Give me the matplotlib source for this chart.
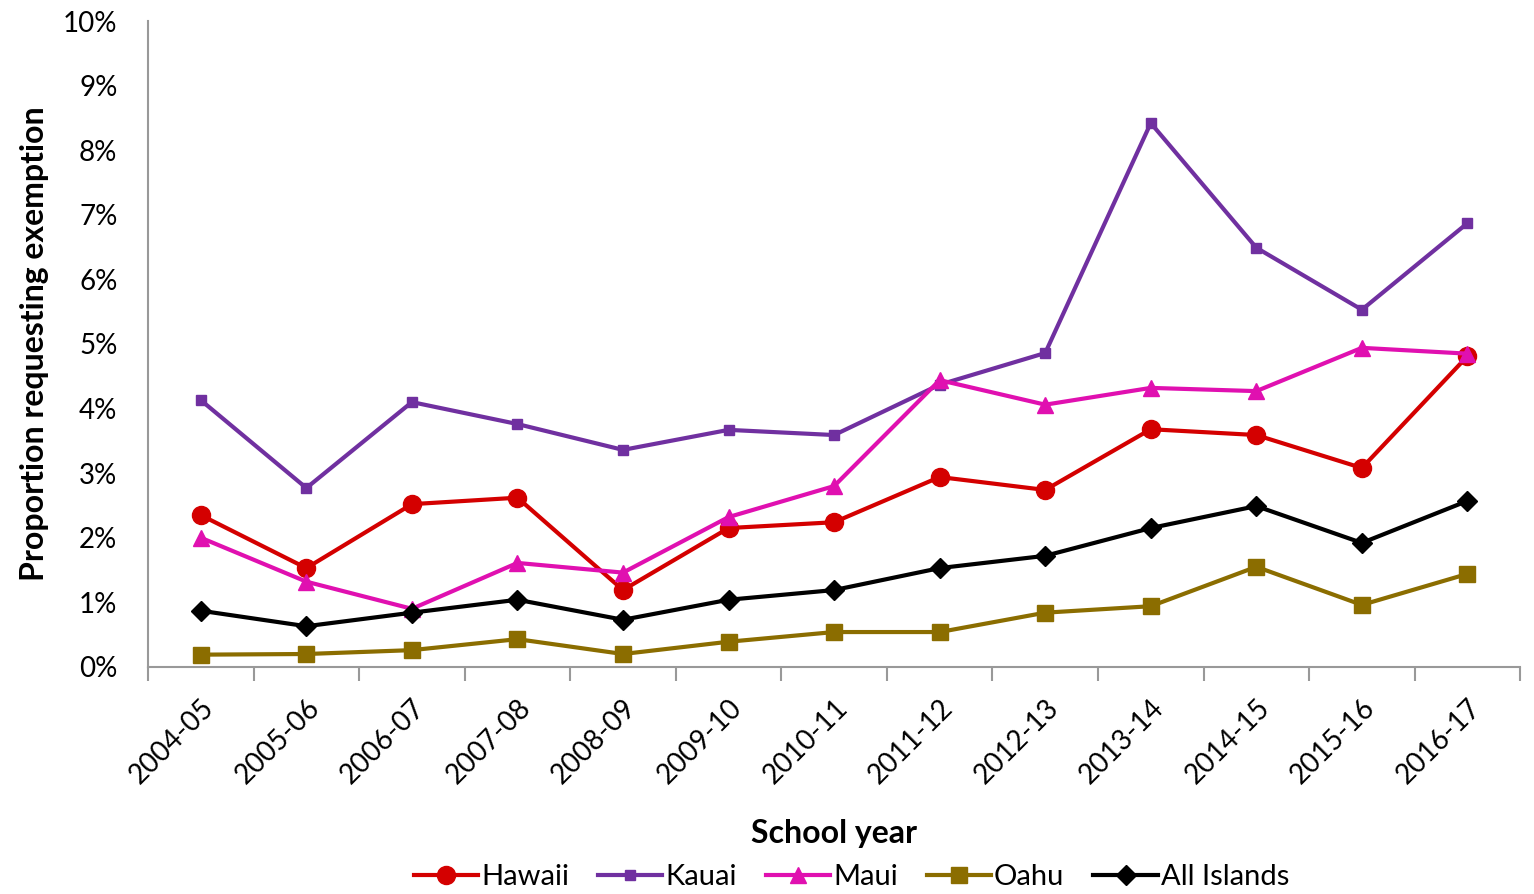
import matplotlib
matplotlib.use("Agg")
import matplotlib.pyplot as plt
from matplotlib.ticker import PercentFormatter

plt.rcParams['font.family'] = ['Lato', 'DejaVu Sans']

# Datos (en %)
years = ["2004-05", "2005-06", "2006-07", "2007-08", "2008-09", "2009-10", "2010-11",
         "2011-12", "2012-13", "2013-14", "2014-15", "2015-16", "2016-17"]
hawaii = [2.35, 1.53, 2.52, 2.62, 1.19, 2.15, 2.24, 2.94, 2.74, 3.68, 3.59, 3.08, 4.81]
kauai = [4.13, 2.77, 4.10, 3.76, 3.36, 3.67, 3.59, 4.37, 4.86, 8.42, 6.49, 5.53, 6.87]
maui = [2.00, 1.32, 0.90, 1.61, 1.46, 2.32, 2.80, 4.44, 4.06, 4.32, 4.27, 4.94, 4.85]
oahu = [0.19, 0.20, 0.26, 0.43, 0.20, 0.39, 0.54, 0.54, 0.84, 0.94, 1.55, 0.96, 1.44]
all_islands = [0.87, 0.63, 0.84, 1.04, 0.73, 1.04, 1.19, 1.53, 1.72, 2.15, 2.49, 1.92, 2.57]

fig = plt.figure(figsize=(15.34, 8.94), dpi=100)
ax = fig.add_axes([0.0965, 0.254, 0.8945, 0.7225])

x = list(range(len(years)))
ax.plot(x, hawaii, color="#d40000", lw=3, marker="o", ms=13, label="Hawaii")
ax.plot(x, kauai, color="#7030a0", lw=3, marker="s", ms=7, label="Kauai")
ax.plot(x, maui, color="#e010b0", lw=3, marker="^", ms=11, label="Maui")
ax.plot(x, oahu, color="#8b6d00", lw=3, marker="s", ms=11, label="Oahu")
ax.plot(x, all_islands, color="black", lw=3, marker="D", ms=10, label="All Islands")

ax.set_xlim(-0.5, len(years) - 0.5)
ax.set_ylim(0, 10)
ax.set_yticks(range(0, 11))
ax.yaxis.set_major_formatter(PercentFormatter(decimals=0))
ax.set_xticks(x)
ax.set_xticklabels(years, rotation=45, ha="right", rotation_mode="anchor")
ax.set_xticks([i - 0.5 for i in range(len(years) + 1)], minor=True)
ax.tick_params(axis="x", which="major", length=0, labelsize=20, pad=20)
ax.tick_params(axis="x", which="minor", length=10, width=1.5, color="#999999")
ax.tick_params(axis="y", length=0, labelsize=20, pad=22)

for s in ["top", "right"]:
    ax.spines[s].set_visible(False)
for s in ["left", "bottom"]:
    ax.spines[s].set_color("#999999")
    ax.spines[s].set_linewidth(1.5)

ax.set_xlabel("School year", fontsize=23, fontweight="bold", labelpad=22)
ax.set_ylabel("Proportion requesting exemption", fontsize=23, fontweight="bold", labelpad=10)

fig.legend(loc="lower center", ncol=5, frameon=False, fontsize=21,
           bbox_to_anchor=(0.555, -0.025), handlelength=2.2, handletextpad=0.1,
           columnspacing=1.0)

fig.savefig("out.png", dpi=100)
